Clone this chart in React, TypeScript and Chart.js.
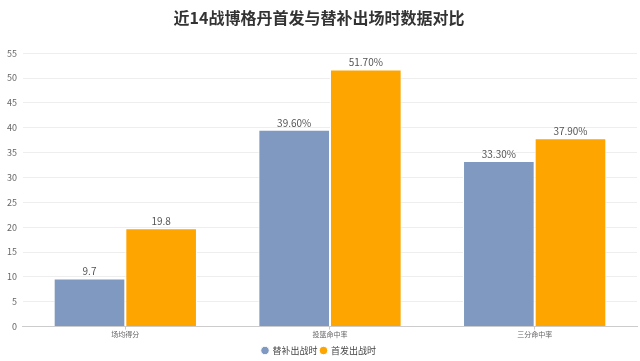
import React, { useEffect, useRef } from "react";
import { Chart, registerables } from "chart.js";

Chart.register(...registerables);

const categories = ["场均得分", "投篮命中率", "三分命中率"];
const benchValues = [9.7, 39.6, 33.3];
const starterValues = [19.8, 51.7, 37.9];
const benchLabels = ["9.7", "39.60%", "33.30%"];
const starterLabels = ["19.8", "51.70%", "37.90%"];
const seriesNames = ["替补出战时", "首发出战时"];
const titleText = "近14战博格丹首发与替补出场时数据对比";

const FONT = "'Noto Sans CJK SC', 'Noto Sans', sans-serif";

const valueLabelPlugin = {
  id: "valueLabels",
  afterDatasetsDraw(chart: any) {
    const ctx = chart.ctx;
    const allLabels = [benchLabels, starterLabels];
    ctx.save();
    ctx.font = `10px ${FONT}`;
    ctx.fillStyle = "#555";
    ctx.textAlign = "center";
    ctx.textBaseline = "bottom";
    chart.data.datasets.forEach((_: any, di: number) => {
      const meta = chart.getDatasetMeta(di);
      meta.data.forEach((bar: any, i: number) => {
        ctx.fillText(allLabels[di][i], bar.x, bar.y - 2);
      });
    });
    ctx.restore();
  },
};

export default function App() {
  const ref = useRef<HTMLCanvasElement>(null);
  useEffect(() => {
    const chart = new Chart(ref.current!, {
      type: "bar",
      data: {
        labels: categories,
        datasets: [
          {
            label: seriesNames[0],
            data: benchValues,
            backgroundColor: "#7f99c0",
            borderColor: "#ffffff",
            borderWidth: 1,
            categoryPercentage: 0.7,
            barPercentage: 1.0,
          },
          {
            label: seriesNames[1],
            data: starterValues,
            backgroundColor: "#ffa500",
            borderColor: "#ffffff",
            borderWidth: 1,
            categoryPercentage: 0.7,
            barPercentage: 1.0,
          },
        ],
      },
      options: {
        animation: false,
        responsive: false,
        maintainAspectRatio: false,
        layout: { padding: { left: 1, right: 3, top: 0, bottom: -4 } },
        plugins: {
          title: {
            display: true,
            text: titleText,
            color: "#333",
            font: { family: FONT, size: 16, weight: "bold" },
            padding: { top: 8, bottom: 26 },
          },
          legend: {
            position: "bottom",
            labels: {
              usePointStyle: true,
              pointStyle: "circle",
              boxWidth: 6,
              boxHeight: 6,
              padding: 3,
              color: "#444",
              font: { family: FONT, size: 9 },
            },
          },
          tooltip: { enabled: false },
        },
        scales: {
          x: {
            afterFit: (axis: any) => {
              axis.height += 3;
            },
            grid: {
              display: true,
              drawOnChartArea: false,
              offset: false,
              tickLength: 3,
              color: "#ccc",
            },
            border: { display: true, color: "#ccc" },
            ticks: {
              color: "#666",
              font: { family: FONT, size: 7 },
              padding: 1,
            },
          },
          y: {
            min: 0,
            max: 55,
            ticks: {
              stepSize: 5,
              color: "#666",
              font: { family: FONT, size: 9 },
              padding: 6,
            },
            grid: { color: "#eeeeee", drawTicks: false },
            border: { display: false },
          },
        },
      },
      plugins: [valueLabelPlugin],
    });
    return () => chart.destroy();
  }, []);
  return (
    <div style={{ position: "fixed", left: 0, top: 0, width: 640, height: 361, background: "#fff" }}>
      <canvas ref={ref} width={640} height={361} style={{ display: "block" }} />
    </div>
  );
}
